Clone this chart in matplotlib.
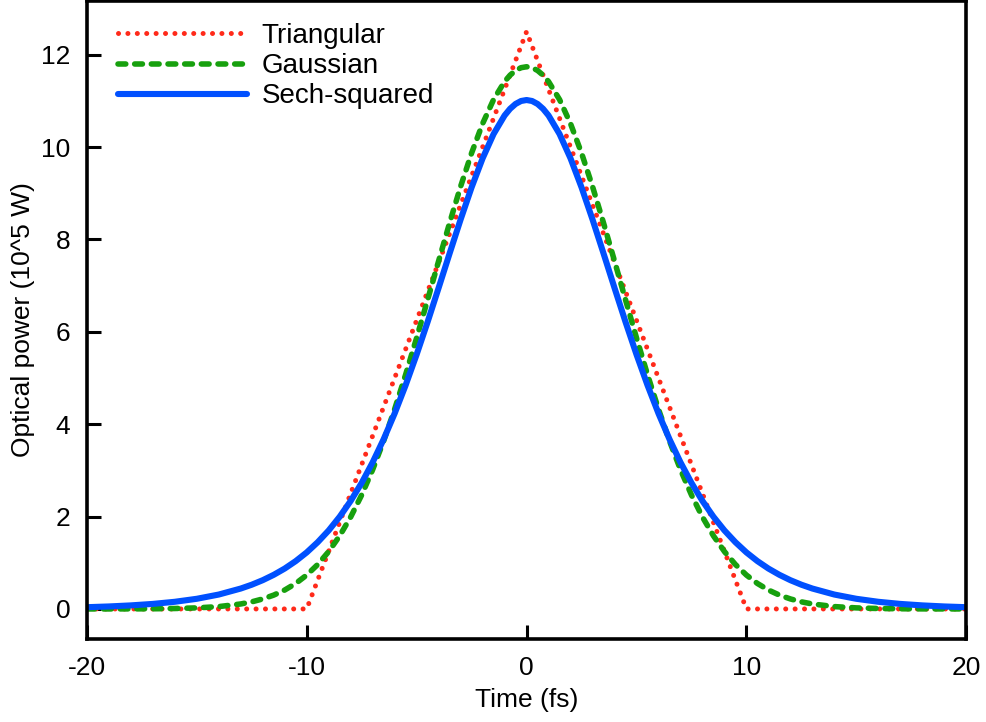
import matplotlib
matplotlib.use("Agg")
import matplotlib.pyplot as plt

plt.rcParams['font.family'] = ['Liberation Sans', 'DejaVu Sans']
plt.rcParams['axes.unicode_minus'] = False

# Triangular pulse (corners)
t_tri = [-20, -10, 0, 10, 20]
p_tri = [0.0, 0.0, 12.5, 0.0, 0.0]

# Gaussian and sech-squared pulses, read at sample times (fs), t >= 0
t_half = [0, 0.25, 0.5, 0.75, 1, 1.5, 2, 2.5, 3, 3.5, 4, 4.5, 5, 5.5, 6,
          6.5, 7, 7.5, 8, 8.5, 9, 9.5, 10, 10.5, 11, 11.5, 12, 12.5, 13,
          14, 15, 16, 17, 18, 19, 20]
p_gauss_half = [11.74, 11.720, 11.659, 11.558, 11.419, 11.030, 10.508, 9.872,
                9.147, 8.359, 7.534, 6.696, 5.87, 5.075, 4.327, 3.638, 3.017,
                2.468, 1.991, 1.584, 1.243, 0.962, 0.734, 0.552, 0.410,
                0.300, 0.217, 0.154, 0.108, 0.051, 0.023, 0.0097, 0.0039,
                0.0015, 0.0005, 0.0002]
p_sech_half = [11.02, 10.999, 10.935, 10.830, 10.685, 10.284, 9.756, 9.129,
               8.433, 7.699, 6.952, 6.216, 5.51, 4.846, 4.233, 3.676, 3.176,
               2.730, 2.339, 1.997, 1.700, 1.445, 1.224, 1.036, 0.875,
               0.739, 0.623, 0.525, 0.442, 0.312, 0.220, 0.155, 0.109,
               0.077, 0.054, 0.038]

# pulses are symmetric: mirror the half to the negative side
t_full = [-t for t in t_half[:0:-1]] + t_half
p_gauss = p_gauss_half[:0:-1] + p_gauss_half
p_sech = p_sech_half[:0:-1] + p_sech_half

fig = plt.figure(figsize=(9.87, 7.22), dpi=100)
ax = fig.add_axes([0.088, 0.115, 0.891, 0.884])

ax.plot(t_tri, p_tri, color='#ff2a1a', lw=3.6, linestyle=(0, (0.01, 1.87)),
        dash_capstyle='round', solid_capstyle='round', label='Triangular')
ax.plot(t_full, p_gauss, color='#17a00e', lw=4.0, linestyle=(0, (1.4, 1.6)),
        dash_capstyle='round', label='Gaussian')
ax.plot(t_full, p_sech, color='#0050ff', lw=4.4, solid_capstyle='round',
        label='Sech-squared')

ax.set_xlim(-20, 20)
ax.set_ylim(-0.65, 13.17)
ax.set_xticks([-20, -10, 0, 10, 20])
ax.set_yticks([0, 2, 4, 6, 8, 10, 12])
ax.tick_params(direction='in', length=10, width=2.2, labelsize=19, pad=12)
for s in ax.spines.values():
    s.set_linewidth(2.6)

ax.set_xlabel('Time (fs)', fontsize=19, labelpad=6)
ax.set_ylabel('Optical power (10^5 W)', fontsize=19, labelpad=4)

ax.legend(loc='upper left', frameon=False, fontsize=20, handlelength=4.64,
          handletextpad=0.54, labelspacing=0.15, borderaxespad=0.0,
          borderpad=0.0, bbox_to_anchor=(0.035, 0.965))

fig.savefig('out.png', dpi=100)
